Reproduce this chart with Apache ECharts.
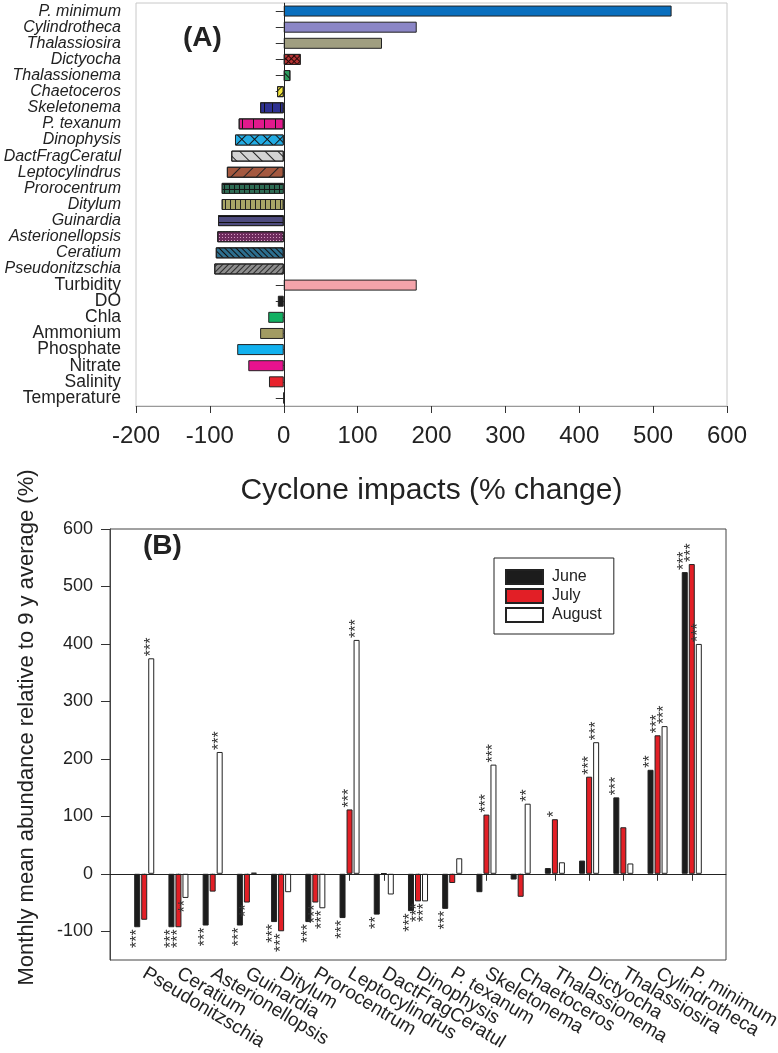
<!DOCTYPE html>
<html>
<head>
<meta charset="utf-8">
<script src="https://cdn.jsdelivr.net/npm/echarts@6/dist/echarts.min.js"></script>
<style>
html,body{margin:0;padding:0;background:#fff;}
#chart{width:778px;height:1053px;}
</style>
</head>
<body>
<div id="chart"></div>
<script>
// ---------- Panel (A) data ----------
const speciesA = ['P. minimum','Cylindrotheca','Thalassiosira','Dictyocha','Thalassionema','Chaetoceros',
  'Skeletonema','P. texanum','Dinophysis','DactFragCeratul','Leptocylindrus','Prorocentrum','Ditylum',
  'Guinardia','Asterionellopsis','Ceratium','Pseudonitzschia'];
const envA = ['Turbidity','DO','Chla','Ammonium','Phosphate','Nitrate','Salinity','Temperature'];
const valuesA = [525, 180, 133, 23, 9, -9, -32, -61, -66, -71, -77, -84, -84, -89, -90, -92, -94,
  180, -8, -21, -32, -63, -48, -20, 0];
const ticksA = [-200, -100, 0, 100, 200, 300, 400, 500, 600];

// ---------- Panel (B) data ----------
const speciesB = ['Pseudonitzschia','Ceratium','Asterionellopsis','Guinardia','Ditylum','Prorocentrum',
  'Leptocylindrus','DactFragCeratul','Dinophysis','P. texanum','Skeletonema','Chaetoceros','Thalassionema',
  'Dictyocha','Thalassiosira','Cylindrotheca','P. minimum'];
const june = [-93, -93, -90, -90, -84, -84, -77, -71, -65, -61, -32, -10, 10, 23, 133, 181, 525];
const july = [-80, -93, -31, -50, -100, -50, 112, 1, -48, -16, 103, -40, 95, 169, 81, 241, 539];
const august = [375, -42, 212, 2, -32, -60, 407, -36, -48, 27, 190, 122, 20, 229, 18, 257, 400];
const sigJune = ['***','***','***','***','***','***','***','**','***','***','','','','','***','**','***'];
const sigJuly = ['','***','','**','***','***','***','','***','','***','','*','***','','***','***'];
const sigAug = ['***','**','***','','','***','***','','***','','***','**','','***','','***','***'];
const ticksB = [-100, 0, 100, 200, 300, 400, 500, 600];

// ---------- styles ----------
const FONT = 'Liberation Sans, Arial, sans-serif';
const Q = Math.PI / 4;
function lines(color, gap, rot) {
  return { symbol: 'rect', color: color, dashArrayX: [1, 0], dashArrayY: [1, gap], rotation: rot };
}
function vlines(color, gap) {
  return { symbol: 'rect', color: color, dashArrayX: [1, gap], dashArrayY: [1, 0] };
}
function grid(fill, cell, rot) {
  return { symbol: 'rect', color: fill, dashArrayX: [cell, 1], dashArrayY: [cell, 1], rotation: rot || 0 };
}
const styleA = {
  'P. minimum': { color: '#0A6FBE' },
  'Cylindrotheca': { color: '#8B86C6' },
  'Thalassiosira': { color: '#A09E80' },
  'Dictyocha': { color: '#2A0A0A', decal: grid('#B53333', 3, Q) },
  'Thalassionema': { color: '#2B9A5C', decal: lines('#111', 4, Q) },
  'Chaetoceros': { color: '#F2E43C', decal: lines('#111', 4, -Q) },
  'Skeletonema': { color: '#2E3192', decal: vlines('#111', 7) },
  'P. texanum': { color: '#E3198D', decal: vlines('#111', 10) },
  'Dinophysis': { color: '#151515', decal: grid('#22ABE3', 8, Q) },
  'DactFragCeratul': { color: '#D3D3D3', decal: lines('#222', 8, Q) },
  'Leptocylindrus': { color: '#A4583F', decal: lines('#222', 8, -Q) },
  'Prorocentrum': { color: '#151515', decal: grid('#2E6C54', 4, 0) },
  'Ditylum': { color: '#A9A667', decal: vlines('#222', 4) },
  'Guinardia': { color: '#4E4B7E', decal: { symbol: 'rect', color: '#111', dashArrayX: [1, 0], dashArrayY: [1, 5] } },
  'Asterionellopsis': { color: '#6E2C5E', decal: { symbol: 'rect', color: '#D79BC4', dashArrayX: [1, 2], dashArrayY: [1, 2] } },
  'Ceratium': { color: '#2D6F8F', decal: lines('#111', 3, Q) },
  'Pseudonitzschia': { color: '#8D8D8D', decal: lines('#2A2A2A', 3, -Q) },
  'Turbidity': { color: '#F4A3AA' },
  'DO': { color: '#1E1E1E' },
  'Chla': { color: '#12B062' },
  'Ammonium': { color: '#A29B62' },
  'Phosphate': { color: '#12B1EE' },
  'Nitrate': { color: '#E8128E' },
  'Salinity': { color: '#E8232D' },
  'Temperature': { color: '#888' }
};

const catsA = speciesA.concat(envA);
const italicSet = new Set(speciesA);
const dataA = catsA.map((c, i) => ({
  value: valuesA[i],
  itemStyle: Object.assign({ borderColor: '#222', borderWidth: 1 }, styleA[c])
}));

const padB = [''].concat(speciesB, ['']);
function pad(arr) { return [null].concat(arr, [null]); }
function withSig(vals, sig) {
  return pad(vals.map((v, i) => ({
    value: v,
    label: sig[i] ? {
      show: true, formatter: sig[i],
      position: v >= 0 ? 'top' : 'bottom',
      align: v >= 0 ? 'left' : 'right'
    } : { show: false }
  })));
}
const sigLabel = {
  rotate: 90, verticalAlign: 'middle', distance: 2,
  fontSize: 16, color: '#333', fontFamily: FONT
};
const barBase = {
  type: 'bar', xAxisIndex: 1, yAxisIndex: 1, barWidth: 6, barGap: '17%',
  label: sigLabel
};

const option = {
  animation: false,
  backgroundColor: '#fff',
  textStyle: { fontFamily: FONT, color: '#222' },
  title: [
    { text: '(A)', left: 183, top: 24, padding: 0, textStyle: { fontSize: 28, fontWeight: 'bold', color: '#222', fontFamily: FONT } },
    { text: '(B)', left: 143, top: 532, padding: 0, textStyle: { fontSize: 28, fontWeight: 'bold', color: '#222', fontFamily: FONT } }
  ],
  legend: {
    data: ['June', 'July', 'August'],
    orient: 'vertical', left: 494, top: 558,
    borderColor: '#222', borderWidth: 1, padding: [11, 12, 11, 11],
    itemWidth: 37, itemHeight: 14, itemGap: 3, icon: 'rect',
    textStyle: { fontSize: 16, color: '#222', fontFamily: FONT, padding: [0, 0, 0, 4] }
  },
  grid: [
    { left: 136, right: 51, top: 3, height: 403, show: true, borderColor: '#c8c8c8', borderWidth: 1,
      backgroundColor: 'transparent', containLabel: false, outerBoundsMode: 'none' },
    { left: 110, right: 52, top: 529, bottom: 93, show: true, borderColor: '#444', borderWidth: 1,
      backgroundColor: 'transparent', containLabel: false, outerBoundsMode: 'none' }
  ],
  xAxis: [
    {
      gridIndex: 0, type: 'value', min: -200, max: 600, interval: 100,
      splitLine: { show: false },
      axisLine: { show: true, lineStyle: { color: '#999' } },
      axisTick: { show: true, length: 7, lineStyle: { color: '#333' } },
      axisLabel: { fontSize: 24, color: '#222', margin: 18, customValues: ticksA },
      name: 'Cyclone impacts (% change)', nameLocation: 'middle', nameGap: 70,
      nameTextStyle: { fontSize: 30, color: '#222' }
    },
    {
      gridIndex: 1, type: 'category', data: padB, boundaryGap: false,
      axisLine: { show: true, lineStyle: { color: '#444' } },
      axisTick: { show: true, length: 7, interval: (i, v) => v !== '', lineStyle: { color: '#333' } },
      axisLabel: { interval: 0, rotate: -31, fontSize: 19, color: '#222', margin: 12 },
      splitLine: { show: false }
    }
  ],
  yAxis: [
    {
      gridIndex: 0, type: 'category', data: catsA, inverse: true,
      axisLine: { show: true, lineStyle: { color: '#999' } },
      axisTick: { show: true, alignWithLabel: true, length: 8, lineStyle: { color: '#333' } },
      axisLabel: {
        interval: 0, margin: 15,
        formatter: v => italicSet.has(v) ? '{i|' + v + '}' : '{n|' + v + '}',
        rich: {
          i: { fontStyle: 'italic', fontSize: 16, color: '#222', fontFamily: FONT },
          n: { fontSize: 17.5, color: '#222', fontFamily: FONT }
        }
      },
      splitLine: { show: false }
    },
    {
      gridIndex: 1, type: 'value', min: -150, max: 600, interval: 50,
      splitLine: { show: false },
      axisLine: { show: true, lineStyle: { color: '#444' } },
      axisTick: { show: true, length: 9, customValues: ticksB, lineStyle: { color: '#333' } },
      axisLabel: { fontSize: 18, color: '#222', margin: 17, customValues: ticksB },
      name: 'Monthly mean abundance relative to 9 y average (%)', nameLocation: 'middle', nameGap: 72,
      nameTextStyle: { fontSize: 22, color: '#222', padding: [0, 0, 0, 34] }
    }
  ],
  series: [
    {
      type: 'bar', xAxisIndex: 0, yAxisIndex: 0, barWidth: 11, data: dataA,
      markLine: {
        silent: true, symbol: 'none', label: { show: false },
        lineStyle: { color: '#222', width: 1, type: 'solid' },
        data: [{ xAxis: 0 }]
      }
    },
    Object.assign({}, barBase, {
      name: 'June', data: withSig(june, sigJune),
      itemStyle: { color: '#1C1C1C', borderColor: '#222', borderWidth: 1 },
      markLine: {
        silent: true, symbol: 'none', label: { show: false },
        lineStyle: { color: '#222', width: 1, type: 'solid' },
        data: [{ yAxis: 0 }]
      }
    }),
    Object.assign({}, barBase, {
      name: 'July', data: withSig(july, sigJuly),
      itemStyle: { color: '#E21F26', borderColor: '#222', borderWidth: 1 }
    }),
    Object.assign({}, barBase, {
      name: 'August', data: withSig(august, sigAug),
      itemStyle: { color: '#FFFFFF', borderColor: '#222', borderWidth: 1 }
    })
  ]
};

const chart = echarts.init(document.getElementById('chart'), null, { renderer: 'canvas' });
chart.setOption(option);
</script>
</body>
</html>
